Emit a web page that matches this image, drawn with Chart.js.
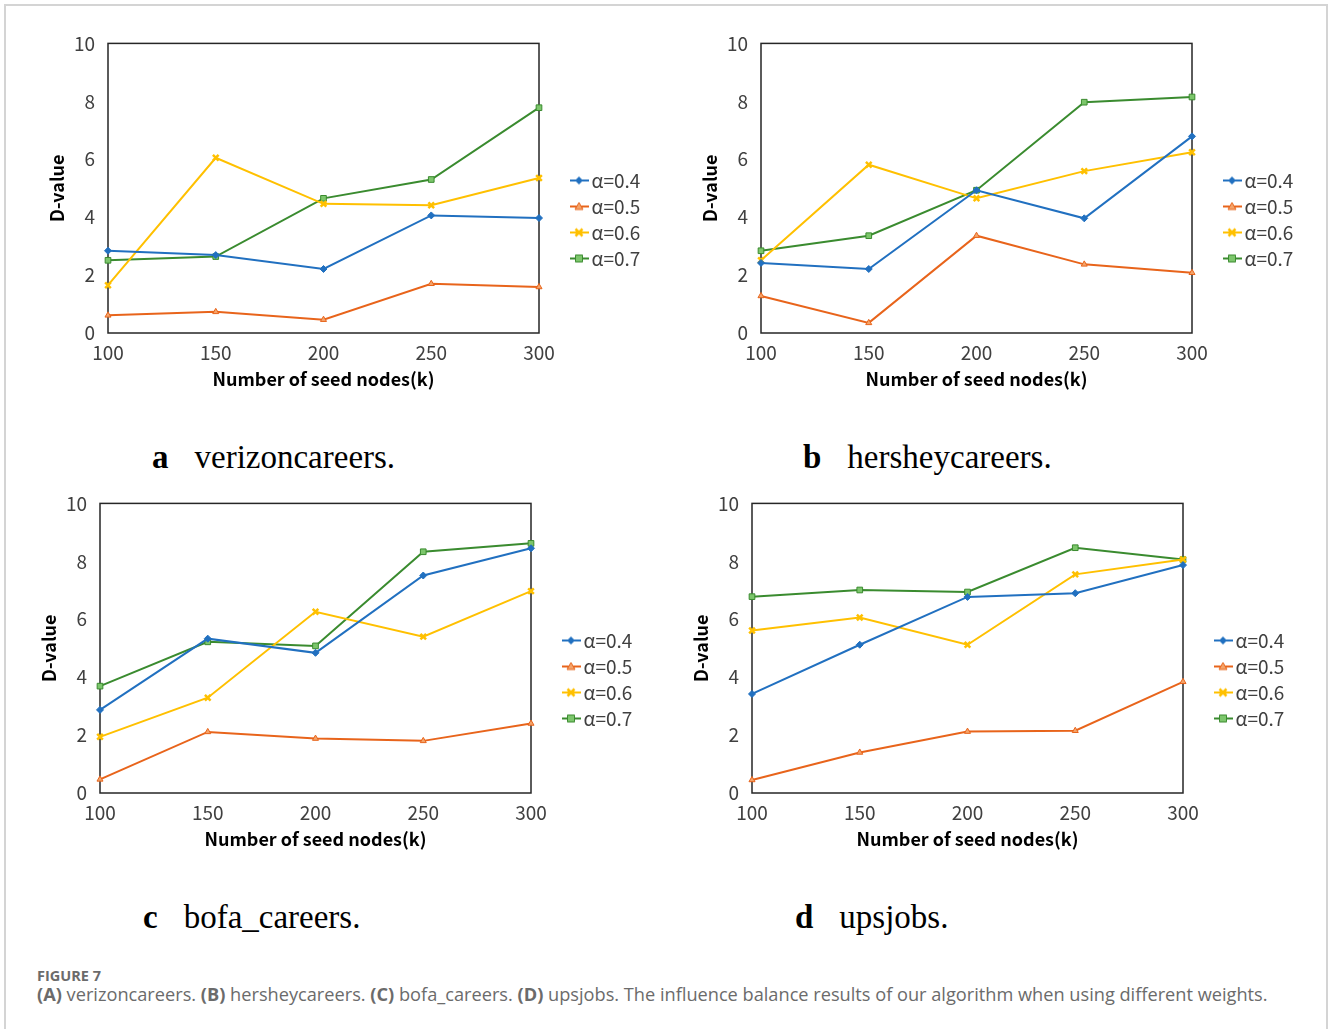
<!DOCTYPE html>
<html>
<head>
<meta charset="utf-8">
<script src="https://cdn.jsdelivr.net/npm/chart.js@4.4.1/dist/chart.umd.min.js"></script>
<style>
  body { margin: 0; background: #fff; }
  #page { position: relative; width: 1328px; height: 1029px; overflow: hidden; }
  #frame { position: absolute; left: 4px; top: 4px; width: 1320px; height: 1040px;
           border: 2px solid #d4d4d4; border-bottom: none; }
  canvas { position: absolute; }
  .sub { position: absolute; font-family: "Liberation Serif", serif; font-size: 33px;
         line-height: 33px; color: #000; white-space: pre; }
  .sub b { margin-right: 26px; }
  .fig { position: absolute; left: 37px; top: 966px; font-family: "Open Sans", sans-serif;
         font-size: 14.5px; font-weight: 700; color: #6b6b6b; }
  .cap { position: absolute; left: 37px; top: 982px; font-family: "Open Sans", sans-serif;
         font-size: 18.2px; color: #6b6b6b; white-space: nowrap; }
  .cap b { font-weight: 700; }
</style>
</head>
<body>
<div id="page">
  <div id="frame"></div>
  <canvas id="chartA" width="620" height="363" style="left:40px;top:27px"></canvas>
  <canvas id="chartB" width="620" height="363" style="left:693px;top:27px"></canvas>
  <canvas id="chartC" width="620" height="363" style="left:32px;top:487px"></canvas>
  <canvas id="chartD" width="620" height="363" style="left:684px;top:487px"></canvas>

  <div class="sub" style="left:152px;top:441px"><b>a</b>verizoncareers.</div>
  <div class="sub" style="left:803px;top:441px"><b>b</b>hersheycareers.</div>
  <div class="sub" style="left:143px;top:901px"><b>c</b>bofa_careers.</div>
  <div class="sub" style="left:795px;top:901px"><b>d</b>upsjobs.</div>

  <div class="fig">FIGURE 7</div>
  <div class="cap"><b>(A)</b> verizoncareers. <b>(B)</b> hersheycareers. <b>(C)</b> bofa_careers. <b>(D)</b> upsjobs. The influence balance results of our algorithm when using different weights.</div>
</div>

<script>
// x categories and legend names
const seedNodes = ['100', '150', '200', '250', '300'];
const alphaNames = ['α=0.4', 'α=0.5', 'α=0.6', 'α=0.7'];

// (a) verizoncareers
const verizon04 = [2.84, 2.69, 2.21, 4.06, 3.97];
const verizon05 = [0.61, 0.73, 0.46, 1.70, 1.59];
const verizon06 = [1.65, 6.05, 4.46, 4.41, 5.35];
const verizon07 = [2.51, 2.64, 4.65, 5.30, 7.78];

// (b) hersheycareers
const hershey04 = [2.42, 2.21, 4.93, 3.96, 6.79];
const hershey05 = [1.28, 0.35, 3.36, 2.37, 2.08];
const hershey06 = [2.51, 5.81, 4.65, 5.59, 6.24];
const hershey07 = [2.84, 3.36, 4.93, 7.97, 8.15];

// (c) bofa_careers
const bofa04 = [2.87, 5.33, 4.84, 7.51, 8.45];
const bofa05 = [0.47, 2.11, 1.88, 1.80, 2.40];
const bofa06 = [1.94, 3.29, 6.26, 5.40, 6.97];
const bofa07 = [3.69, 5.22, 5.08, 8.33, 8.62];

// (d) upsjobs
const ups04 = [3.42, 5.12, 6.77, 6.90, 7.87];
const ups05 = [0.45, 1.40, 2.12, 2.15, 3.84];
const ups06 = [5.61, 6.06, 5.12, 7.55, 8.06];
const ups07 = [6.78, 7.01, 6.94, 8.47, 8.06];

const yTicks = [0, 2, 4, 6, 8, 10];

const lineColors = ['#2170C0', '#E8641B', '#FFC000', '#3A8B2F'];
const pointFills = ['#2170C0', '#F4A46A', '#FFC000', '#7CC66B'];
const pointShapes = ['rectRot', 'triangle', 'crossRot', 'rect'];
const pointSizes = [3.5, 3.5, 4, 4];

// small line+marker swatch used as the legend symbol
function legendSwatch(i) {
  const c = document.createElement('canvas');
  c.width = 52; c.height = 12;
  const g = c.getContext('2d');
  g.strokeStyle = lineColors[i];
  g.lineWidth = 2;
  g.beginPath(); g.moveTo(32, 6); g.lineTo(51, 6); g.stroke();
  g.fillStyle = pointFills[i];
  g.strokeStyle = lineColors[i];
  const x = 41, y = 6;
  g.beginPath();
  if (i === 0) {
    g.moveTo(x, y - 4); g.lineTo(x + 4, y); g.lineTo(x, y + 4); g.lineTo(x - 4, y); g.closePath();
    g.fill();
  } else if (i === 1) {
    g.moveTo(x, y - 4); g.lineTo(x + 4, y + 3); g.lineTo(x - 4, y + 3); g.closePath();
    g.fill(); g.lineWidth = 1; g.stroke();
  } else if (i === 2) {
    g.lineWidth = 2.5;
    g.moveTo(x - 3.5, y - 3.5); g.lineTo(x + 3.5, y + 3.5);
    g.moveTo(x + 3.5, y - 3.5); g.lineTo(x - 3.5, y + 3.5);
    g.stroke();
  } else {
    g.rect(x - 3.5, y - 3.5, 7, 7);
    g.fill(); g.lineWidth = 1; g.stroke();
  }
  return c;
}
const swatches = [0, 1, 2, 3].map(legendSwatch);

const plotFrame = {
  id: 'plotFrame',
  beforeDatasetsDraw(chart) {
    const a = chart.chartArea;
    const ctx = chart.ctx;
    ctx.save();
    ctx.strokeStyle = '#262626';
    ctx.lineWidth = 1.5;
    ctx.strokeRect(a.left, a.top, a.right - a.left, a.bottom - a.top);
    ctx.restore();
  }
};

const legendWidth = {
  id: 'legendWidth',
  beforeLayout(chart) {
    const lg = chart.legend;
    if (lg && !lg._fixedWidth) {
      const fit = lg.fit;
      lg.fit = function () { fit.call(this); this.width = 121; };
      lg._fixedWidth = true;
    }
  }
};

const tickFont = { family: '"Noto Sans CJK SC", "Noto Sans", sans-serif', size: 19 };
const legendFont = { family: '"Noto Sans CJK SC", "Noto Sans", sans-serif', size: 19 };
const titleFont = { family: '"Noto Sans CJK SC", "Noto Sans", sans-serif', size: 18, weight: 'bold' };

function makeChart(id, series) {
  const datasets = series.map((vals, i) => ({
    label: alphaNames[i],
    data: vals,
    borderColor: lineColors[i],
    backgroundColor: pointFills[i],
    borderWidth: 2,
    pointStyle: pointShapes[i],
    pointRadius: pointSizes[i],
    pointBorderWidth: i === 2 ? 2.5 : 1,
    pointBorderColor: lineColors[i],
    pointBackgroundColor: pointFills[i],
    tension: 0,
    clip: false
  }));

  return new Chart(document.getElementById(id), {
    type: 'line',
    data: { labels: seedNodes, datasets: datasets },
    plugins: [plotFrame, legendWidth],
    options: {
      responsive: false,
      animation: false,
      layout: { padding: { top: 10, left: 0, right: 0, bottom: 0 } },
      scales: {
        x: {
          offset: false,
          grid: { display: false },
          border: { display: false },
          ticks: { font: tickFont, color: '#404040', padding: 0, maxRotation: 0 },
          title: { display: true, text: 'Number of seed nodes(k)', font: titleFont, color: '#000', padding: { top: 0, bottom: 0 } },
          afterFit(scale) { scale.height = 57; }
        },
        y: {
          min: 0,
          max: 10,
          grid: { display: false },
          border: { display: false },
          afterBuildTicks(scale) { scale.ticks = yTicks.map(v => ({ value: v })); },
          ticks: { font: tickFont, color: '#404040', padding: 5 },
          title: { display: true, text: 'D-value', font: titleFont, color: '#000', padding: { top: 6, bottom: 0 } },
          afterFit(scale) { scale.width = 68; }
        }
      },
      plugins: {
        tooltip: { enabled: false },
        legend: {
          position: 'right',
          align: 'center',
          title: { display: true, text: ' ', font: { size: 10 }, padding: 0 },
          labels: {
            font: legendFont,
            color: '#404040',
            usePointStyle: true,
            pointStyleWidth: 36,
            padding: 7,
            generateLabels(chart) {
              const items = Chart.defaults.plugins.legend.labels.generateLabels(chart);
              items.forEach((it, i) => { it.pointStyle = swatches[i]; it.lineWidth = 0; });
              return items;
            }
          }
        }
      }
    }
  });
}

makeChart('chartA', [verizon04, verizon05, verizon06, verizon07]);
makeChart('chartB', [hershey04, hershey05, hershey06, hershey07]);
makeChart('chartC', [bofa04, bofa05, bofa06, bofa07]);
makeChart('chartD', [ups04, ups05, ups06, ups07]);
</script>
</body>
</html>
